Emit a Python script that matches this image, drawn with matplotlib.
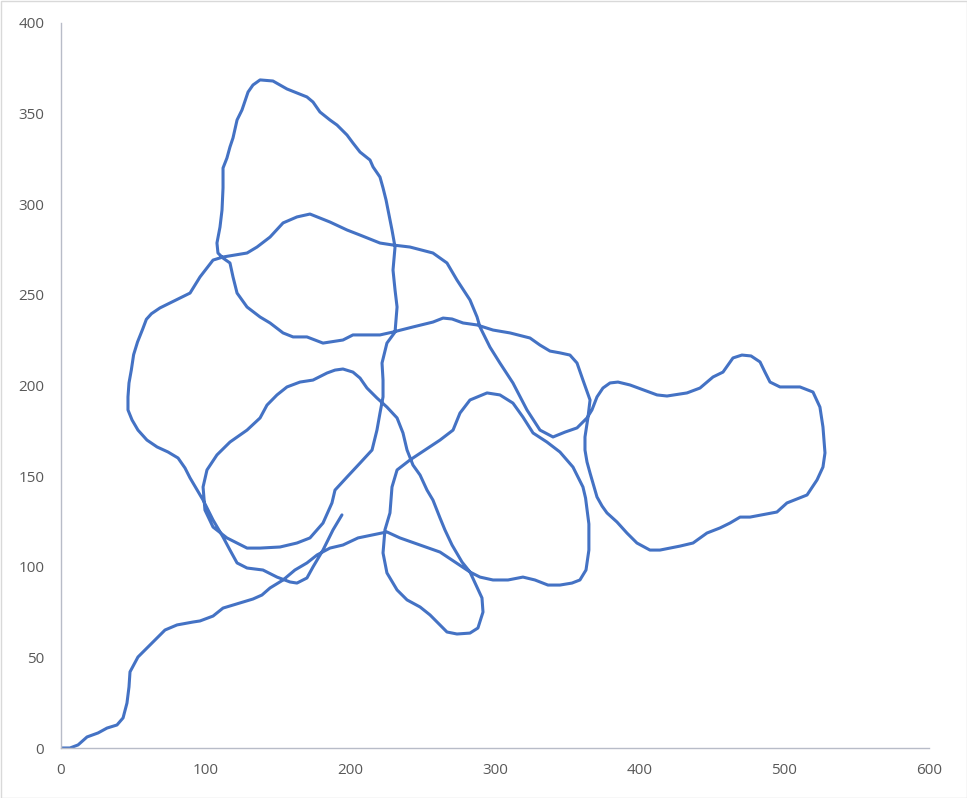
import matplotlib
matplotlib.use("Agg")
import matplotlib.pyplot as plt
from matplotlib.patches import Rectangle

# Path segments (data coordinates), in drawing order
seg_start_x = [0, 6.2, 11.8, 18.0, 25.6, 31.8, 38.7, 42.9, 45.6, 47.0, 47.7, 53.2, 60.1, 66.4, 71.9, 80.2, 91.2, 96.1, 105.1, 112.0, 123.7, 132.7, 138.9, 144.5, 153.5, 161.7, 170.0, 177.0, 185.9, 194.9, 205.3]
seg_start_y = [0, 0, 1.7, 6.1, 8.3, 11.0, 12.7, 16.6, 24.8, 33.7, 42.0, 50.2, 55.7, 60.7, 65.1, 67.9, 69.5, 70.1, 72.8, 77.2, 80.0, 82.2, 84.4, 88.3, 92.7, 98.2, 102.1, 106.5, 110.3, 112.0, 115.9]

seg_mid_x = [225.3, 234.3, 248.2, 262.0, 272.4, 282.7, 289.6, 298.6, 309.0, 319.3, 327.6, 336.6, 344.9, 353.2, 358.7, 362.9, 364.9, 364.9, 362.6, 360.8, 353.9, 344.9, 335.9, 326.3, 319.3, 312.4, 303.4, 294.5, 282.7, 275.8, 271.0, 262.0, 251.6, 241.2, 232.3, 228.8, 227.4, 223.9, 222.6, 225.3, 232.3, 239.2, 248.2, 255.1, 262.0, 266.8, 273.7, 282.7, 288.2, 291.7, 291.0, 286.9, 282.7, 277.2, 270.3, 265.4, 262.0, 257.1, 253.0, 248.2, 243.3, 239.2, 236.4, 232.3, 225.3, 218.4, 211.5, 206.7, 201.8, 194.9, 189.4, 183.9, 174.2, 165.2, 156.2, 149.3, 142.4, 137.6, 128.6, 116.8, 107.8, 100.9, 98.2, 99.5, 105.1, 114.7, 128.6, 137.6, 151.4, 163.1, 172.1, 181.1, 187.3, 189.4, 197.7, 206.7, 215.0, 218.4, 220.5, 222.6, 222.6, 221.9, 225.3, 230.9, 232.3, 230.9, 229.5, 230.9, 228.8]
seg_mid_y = [119.2, 115.9, 112.0, 108.1, 102.6, 97.1, 94.3, 92.7, 92.7, 94.3, 92.7, 89.9, 89.9, 91.0, 92.7, 98.2, 109.2, 123.6, 137.9, 144.0, 155.0, 163.3, 168.8, 173.8, 182.6, 190.3, 194.8, 195.9, 192.0, 184.8, 175.4, 169.9, 164.4, 158.9, 153.4, 144.0, 129.7, 120.3, 107.6, 96.6, 87.2, 81.7, 77.8, 73.4, 67.9, 64.0, 62.9, 63.4, 66.2, 75.0, 82.8, 89.9, 97.1, 102.6, 112.0, 120.3, 126.9, 136.8, 142.3, 150.6, 156.1, 164.4, 173.8, 182.1, 188.1, 193.1, 198.6, 204.1, 207.4, 209.1, 208.5, 206.9, 203.0, 201.9, 199.2, 194.8, 189.2, 182.1, 175.4, 168.8, 161.7, 153.4, 144.0, 131.3, 121.9, 115.9, 110.3, 110.3, 110.9, 113.1, 115.9, 124.1, 135.2, 142.3, 149.5, 157.2, 164.4, 175.4, 184.8, 193.7, 203.0, 212.4, 223.4, 229.5, 243.3, 252.7, 263.7, 276.4, 285.8]

seg_top_x = [226.7, 224.7, 222.6, 220.5, 215.7, 213.6, 206.7, 201.8, 197.7, 190.8, 185.9, 179.0, 174.2, 170.0, 163.1, 156.2, 151.4, 146.5, 137.6, 132.7, 129.3, 125.1, 121.7, 118.9, 116.8, 114.7, 112.0, 112.0, 111.3, 109.9, 107.8, 108.5, 112.0, 116.8, 118.9, 121.7, 128.6, 137.6, 144.5, 153.5, 160.4, 170.0, 181.1, 194.9, 201.8, 220.5, 229.5, 243.3, 257.1, 264.1, 270.3, 277.9, 287.6, 298.6, 310.4, 324.2, 331.1, 338.0, 344.9, 351.8, 356.7, 360.8, 365.7, 364.3, 362.2]
seg_top_y = [294.1, 302.3, 309.0, 315.0, 320.6, 324.4, 328.8, 333.8, 338.2, 343.7, 346.5, 350.9, 356.4, 359.2, 361.4, 363.6, 365.8, 368.0, 368.6, 365.8, 361.9, 352.0, 346.5, 336.6, 331.6, 325.5, 320.0, 309.0, 296.8, 287.4, 278.6, 273.1, 270.3, 267.6, 259.9, 251.0, 243.3, 237.8, 234.5, 229.0, 226.8, 226.8, 223.4, 225.1, 227.9, 227.9, 229.5, 232.3, 235.0, 237.2, 236.7, 234.5, 233.4, 230.6, 229.0, 226.2, 222.3, 219.0, 218.0, 216.8, 212.4, 203.0, 192.0, 182.6, 171.6]

seg_end_x = [362.2, 363.6, 365.7, 370.5, 374.0, 377.4, 384.3, 391.2, 398.1, 407.1, 414.0, 427.9, 436.9, 446.5, 455.5, 462.4, 469.4, 476.3, 494.9, 501.8, 515.7, 522.6, 526.7, 528.1, 526.7, 524.6, 519.8, 510.8, 497.0, 490.1, 486.6, 483.2, 477.0, 470.7, 464.5, 457.6, 450.7, 441.7, 432.7, 418.9, 412.0, 393.3, 385.0, 379.5, 374.6, 370.5, 367.0, 363.6, 356.7, 348.4, 340.1, 331.1, 322.1, 312.4, 303.4, 296.5, 289.6, 287.6, 282.7, 273.7, 266.8, 257.1, 241.2, 229.5, 220.5, 206.7, 197.7, 185.9, 172.1, 163.1, 153.5, 144.5, 135.5, 128.6, 112.0, 105.1, 96.1, 89.2, 82.3, 75.3, 68.4, 62.5, 59.0, 56.4, 52.9, 50.2, 48.6, 47.0, 46.3, 46.3, 49.1, 53.2, 59.4, 66.4, 74.0, 80.9, 85.7, 89.2, 98.2, 105.1, 112.0, 116.8, 121.7, 128.6, 139.6, 149.3, 158.3, 163.1, 170.0, 174.2, 181.1, 188.0, 194.2]
seg_end_y = [164.4, 157.8, 151.7, 138.5, 133.5, 129.7, 124.7, 118.6, 113.1, 109.2, 109.2, 111.4, 113.1, 118.6, 121.4, 124.1, 127.4, 127.4, 130.2, 135.2, 139.6, 147.9, 155.0, 162.8, 177.1, 188.1, 196.4, 199.2, 199.2, 201.9, 207.4, 213.0, 216.3, 216.8, 215.2, 207.4, 204.7, 198.6, 195.9, 194.2, 194.8, 200.3, 201.9, 201.4, 198.6, 193.7, 186.5, 182.1, 176.6, 174.3, 171.6, 175.4, 186.5, 201.4, 212.4, 221.2, 232.3, 237.8, 247.2, 258.2, 267.6, 273.1, 276.4, 277.5, 278.6, 283.0, 285.8, 290.2, 294.6, 293.0, 289.7, 281.9, 276.4, 273.1, 270.9, 269.2, 259.9, 251.0, 248.3, 245.5, 242.8, 239.6, 236.5, 231.0, 224.0, 217.0, 208.5, 201.4, 193.7, 186.5, 181.0, 175.4, 169.9, 166.1, 163.3, 160.0, 154.5, 149.0, 136.8, 125.8, 116.4, 109.2, 102.1, 99.3, 98.2, 94.3, 91.6, 91.0, 93.8, 99.9, 109.2, 120.3, 128.6]

x_ticks = [0, 100, 200, 300, 400, 500, 600]
y_ticks = [0, 50, 100, 150, 200, 250, 300, 350, 400]

path_x = seg_start_x + seg_mid_x + seg_top_x + seg_end_x
path_y = seg_start_y + seg_mid_y + seg_top_y + seg_end_y

plt.rcParams['font.family'] = ['Open Sans', 'DejaVu Sans']

fig = plt.figure(figsize=(9.67, 7.98), dpi=100)
ax = fig.add_axes([61/967, 50/798, 868/967, 725/798])

ax.plot(path_x, path_y, color='#4472C4', linewidth=2.2, solid_joinstyle='round', solid_capstyle='round')

ax.set_xlim(0, 600)
ax.set_ylim(0, 400)
ax.set_xticks(x_ticks)
ax.set_yticks(y_ticks)
ax.tick_params(length=0, labelsize=11, labelcolor='#595959')
ax.tick_params(axis='x', pad=11)
ax.tick_params(axis='y', pad=12)
for s in ['top', 'right']:
    ax.spines[s].set_visible(False)
for s in ['left', 'bottom']:
    ax.spines[s].set_color('#B8BCC8')
    ax.spines[s].set_linewidth(1.0)

fig.patches.append(Rectangle((0.5/967, 0.5/798), 1 - 1/967, 1 - 1/798, transform=fig.transFigure,
                             fill=False, edgecolor='#D9D9D9', linewidth=1.0))

fig.savefig('out.png', dpi=100)
